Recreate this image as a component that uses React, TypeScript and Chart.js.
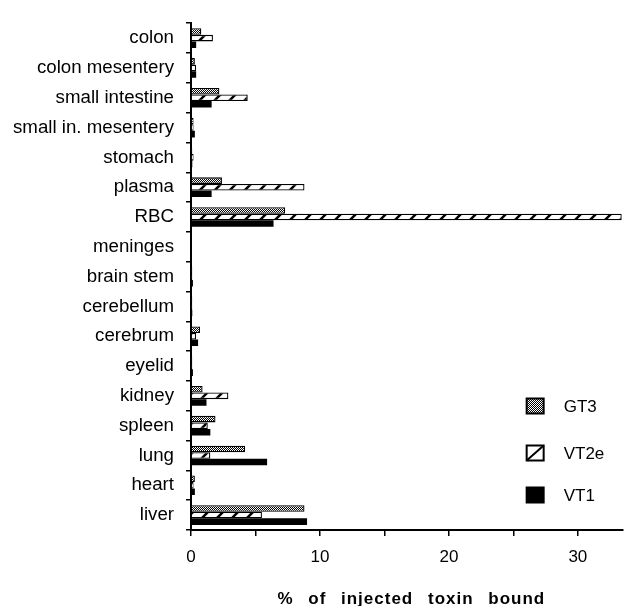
import React, { useEffect, useRef } from 'react';
import { Chart, registerables } from 'chart.js';

Chart.register(...registerables);

const categories = [
  'colon', 'colon mesentery', 'small intestine', 'small in. mesentery', 'stomach',
  'plasma', 'RBC', 'meninges', 'brain stem', 'cerebellum', 'cerebrum', 'eyelid',
  'kidney', 'spleen', 'lung', 'heart', 'liver',
];
const gt3 = [0.8, 0.3, 2.2, 0.2, 0.1, 2.4, 7.3, 0.05, 0.1, 0.1, 0.7, 0.1, 0.9, 1.9, 4.2, 0.3, 8.8];
const vt2e = [1.7, 0.4, 4.4, 0.2, 0.2, 8.8, 33.4, 0.05, 0.1, 0.1, 0.4, 0.1, 2.9, 1.3, 1.5, 0.2, 5.5];
const vt1 = [0.4, 0.4, 1.6, 0.3, 0.1, 1.6, 6.4, 0.05, 0.15, 0.1, 0.55, 0.15, 1.2, 1.5, 5.9, 0.3, 9.0];
const seriesLabels = ['GT3', 'VT2e', 'VT1'];
const xAxisTitle = '% of injected toxin bound';

function makeDots(ctx: CanvasRenderingContext2D) {
  const c = document.createElement('canvas');
  c.width = 2; c.height = 2;
  const g = c.getContext('2d')!;
  g.fillStyle = '#000'; g.fillRect(0, 0, 2, 2);
  g.fillStyle = '#fff'; g.fillRect(0, 0, 1, 1); g.fillRect(1, 1, 1, 1);
  return ctx.createPattern(c, 'repeat')!;
}

function makeHatch(ctx: CanvasRenderingContext2D) {
  const s = 15;
  const c = document.createElement('canvas');
  c.width = s; c.height = s;
  const g = c.getContext('2d')!;
  g.fillStyle = '#fff'; g.fillRect(0, 0, s, s);
  g.strokeStyle = '#000'; g.lineWidth = 2.5;
  g.beginPath();
  g.moveTo(-2, s + 2); g.lineTo(s + 2, -2);
  g.moveTo(-2, 2); g.lineTo(2, -2);
  g.moveTo(s - 2, s + 2); g.lineTo(s + 2, s - 2);
  g.stroke();
  return ctx.createPattern(c, 'repeat')!;
}

export default function App() {
  const ref = useRef<HTMLCanvasElement>(null);
  useEffect(() => {
    document.body.style.margin = '0';
    const canvas = ref.current!;
    const ctx = canvas.getContext('2d')!;
    const dots = makeDots(ctx);
    const hatch = makeHatch(ctx);
    const fills: any[] = [dots, hatch, '#000'];

    const extras = {
      id: 'extras',
      afterDraw(chart: any) {
        const c = chart.ctx as CanvasRenderingContext2D;
        const a = chart.chartArea;
        c.save();
        // axis title
        c.fillStyle = '#000';
        c.font = 'bold 17px "Liberation Sans", Arial, sans-serif';
        (c as any).letterSpacing = '1px';
        (c as any).wordSpacing = '9px';
        c.textAlign = 'center';
        c.textBaseline = 'alphabetic';
        c.fillText(xAxisTitle, a.left + 0.51 * (a.right - a.left), 604);
        (c as any).letterSpacing = '0px';
        (c as any).wordSpacing = '0px';
        // legend
        const lx = a.left + 0.777 * (a.right - a.left);
        const rows = [406, 453, 495];
        c.font = '17px "Liberation Sans", Arial, sans-serif';
        c.textAlign = 'left';
        c.textBaseline = 'middle';
        seriesLabels.forEach((lab, i) => {
          const y = rows[i];
          const w = 17, h = 15;
          c.fillStyle = i === 1 ? '#fff' : fills[i];
          c.fillRect(lx, y - h / 2, w, h);
          c.strokeStyle = '#000';
          c.lineWidth = 2;
          c.strokeRect(lx, y - h / 2, w, h);
          if (i === 1) {
            c.beginPath();
            c.moveTo(lx, y + h / 2);
            c.lineTo(lx + w, y - h / 2);
            c.stroke();
          }
          c.fillStyle = '#000';
          c.fillText(lab, lx + 37, y + 1);
        });
        c.restore();
      },
    };

    const font = { family: '"Liberation Sans", Arial, sans-serif' };
    const chart = new Chart(canvas, {
      type: 'bar',
      data: {
        labels: categories,
        datasets: [gt3, vt2e, vt1].map((d, i) => ({
          label: seriesLabels[i],
          data: d,
          backgroundColor: fills[i],
          borderColor: '#000',
          borderWidth: i === 2 ? 0 : 1.3,
          categoryPercentage: 0.66,
          barPercentage: 1,
        })),
      },
      options: {
        indexAxis: 'y',
        animation: false,
        responsive: false,
        devicePixelRatio: 1,
        layout: { padding: { top: 15, right: 10, left: 0, bottom: 0 } },
        plugins: { legend: { display: false }, tooltip: { enabled: false } },
        scales: {
          x: {
            type: 'linear',
            min: 0,
            max: 33.5,
            position: 'bottom',
            grid: { drawOnChartArea: false, drawTicks: true, tickLength: 6, color: '#000', lineWidth: 1.5 },
            border: { color: '#000', width: 2 },
            ticks: {
              stepSize: 5,
              includeBounds: false,
              autoSkip: false,
              maxRotation: 0,
              padding: 11,
              color: '#000',
              font: { ...font, size: 17 },
              callback: (v: any) => (Number(v) % 10 === 0 ? String(v) : ''),
            },
            afterFit: (s: any) => { s.height = 76; },
          },
          y: {
            type: 'category',
            offset: true,
            grid: { offset: true, drawOnChartArea: false, drawTicks: true, tickLength: 5, color: '#000', lineWidth: 1.5 },
            border: { color: '#000', width: 2 },
            ticks: { color: '#000', autoSkip: false, padding: 12, font: { ...font, size: 18.7 } },
            afterFit: (s: any) => { s.width = 191; },
          },
        },
      },
      plugins: [extras],
    } as any);
    return () => chart.destroy();
  }, []);
  return <canvas ref={ref} width={633} height={606} style={{ display: 'block' }} />;
}
